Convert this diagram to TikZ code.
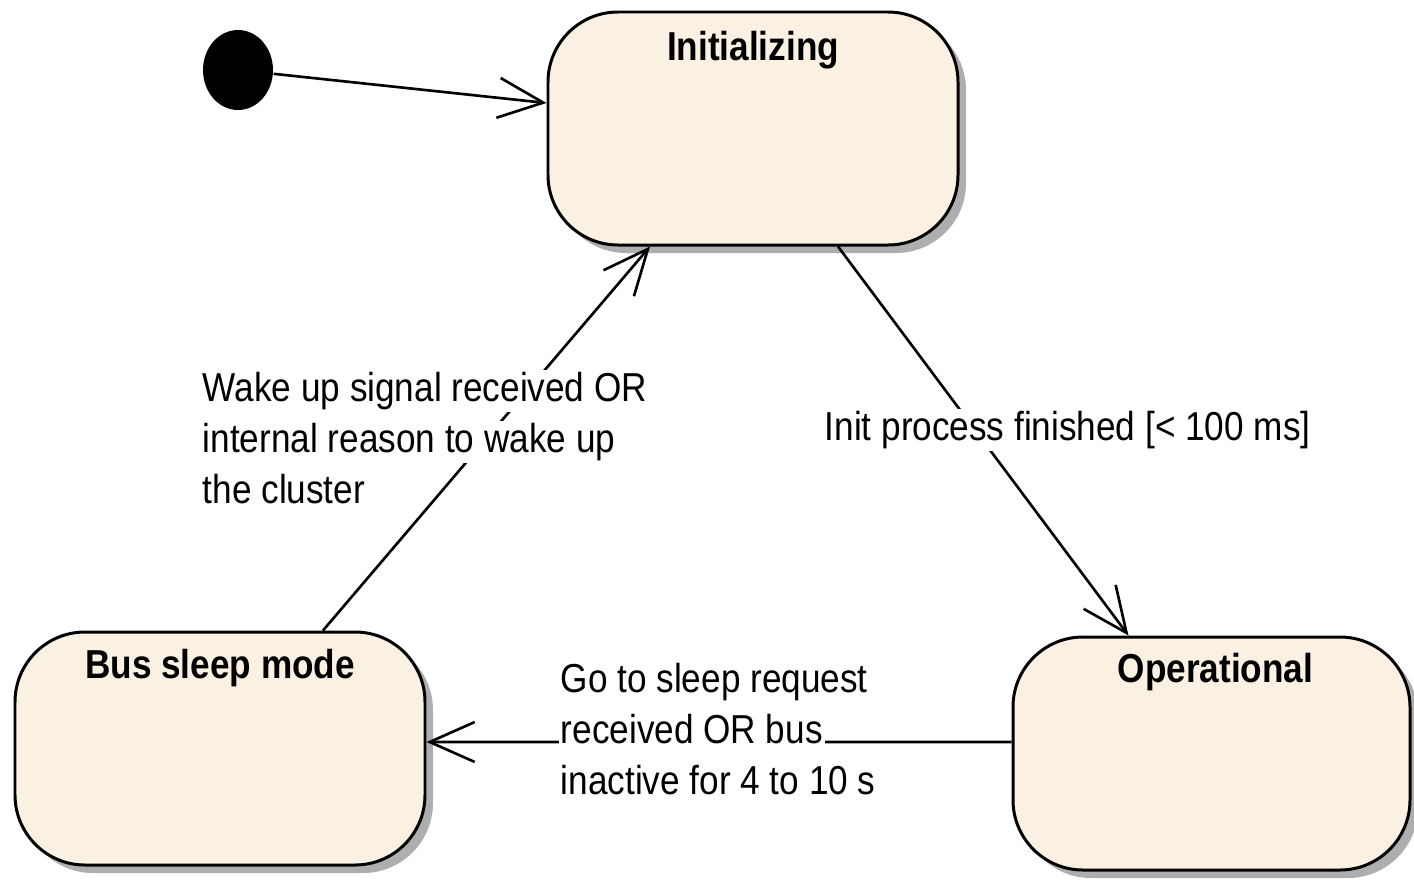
\documentclass[tikz,border=0pt]{standalone}
\usepackage{fontspec}
\setmainfont[FakeStretch=0.87]{Liberation Sans}
\usepackage{xcolor}
\usepackage{tikz}
\usetikzlibrary{arrows.meta,positioning,shapes.geometric,shadows}
\definecolor{statefill}{HTML}{FBF1E3}
\newcommand{\wln}[1]{{\setlength{\fboxsep}{0.6pt}\colorbox{white}{#1}}}

\begin{document}
\begin{tikzpicture}[
    state/.style={draw, line width=0.85pt, rounded corners=0.7cm, fill=statefill, minimum width=4.1cm, minimum height=2.33cm,
      drop shadow={shadow xshift=0.08cm, shadow yshift=-0.08cm, fill=black!45, opacity=0.7}},
    title/.style={font=\fontsize{11.5}{14}\selectfont\bfseries, inner sep=0pt, anchor=base},
    trans/.style={line width=0.75pt, -{Straight Barb[length=4.5mm, width=4mm, line width=0.75pt]}},
    guard/.style={font=\fontsize{11.5}{14.5}\selectfont, align=left, inner sep=0pt}]
    \useasboundingbox (0,0) rectangle (14.14,-8.8);

    % Initial state
    \node[ellipse, fill=black, minimum width=0.7cm, minimum height=0.8cm, inner sep=0pt] (start) at (2.38,-0.70) {};

    % States
    \node[state] (init) at (7.53,-1.285) {};
    \node[state] (sleep) at (2.20,-7.485) {};
    \node[state, minimum width=3.97cm] (oper) at (12.115,-7.535) {};
    \node[title] (initT) at ([yshift=-0.5cm]init.north) {Initializing};
    \node[title] (sleepT) at ([yshift=-0.48cm]sleep.north) {Bus sleep mode};
    \node[title] (operT) at ([xshift=0.04cm, yshift=-0.47cm]oper.north) {Operational};

    % Transitions
    \draw[trans] (start) -- ([yshift=0.255cm]init.west);
    \draw[trans] ([xshift=1.03cm]sleep.north) -- ([xshift=-1.03cm]init.south);
    \draw[trans] ([xshift=0.85cm]init.south) -- ([xshift=-0.83cm]oper.north);
    \draw[trans] ([yshift=1.15mm]oper.west) -- ([yshift=0.65mm]sleep.east);

    % Guards
    \node[guard, anchor=north west] (wakeL) at (2.0,-3.69) {\wln{Wake up signal received OR}\\\wln{internal reason to wake up}\\\wln{the cluster}};
    \node[guard, anchor=base west] (initL) at (8.22,-4.40) {\wln{Init process finished [< 100 ms]}};
    \node[guard, anchor=north west] (sleepL) at (5.58,-6.60) {\wln{Go to sleep request}\\\wln{received OR bus}\\\wln{inactive for 4 to 10 s}};
\end{tikzpicture}
\end{document}
